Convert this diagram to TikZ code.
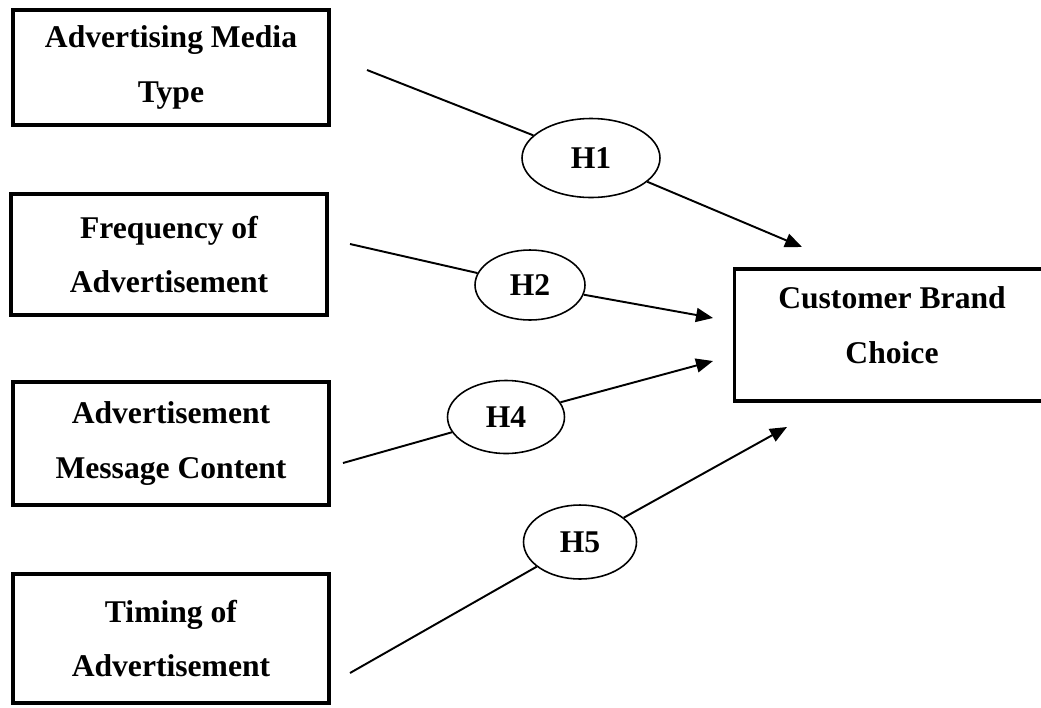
\documentclass[tikz,border=0pt]{standalone}
\usepackage{fontspec}
\setmainfont{Liberation Serif}
\usetikzlibrary{shapes.geometric, arrows.meta}
\begin{document}
\begin{tikzpicture}[x=0.02cm, y=-0.02cm,
  factor/.style={draw, line width=2.2pt, align=center, inner sep=0pt,
    font=\fontsize{18}{31}\selectfont\bfseries},
  hyp/.style={draw, ellipse, line width=0.9pt, fill=white, inner sep=0pt,
    font=\fontsize{18}{22}\selectfont\bfseries},
  link/.style={line width=1.1pt},
  arrowlink/.style={link, -{Triangle[length=0.34cm, width=0.28cm]}}]
\useasboundingbox (0,0) rectangle (1041,707);
% independent variables (left column)
\node[factor, minimum width=6.32cm, minimum height=2.3cm] (media) at (171,67.5) {Advertising Media\\Type};
\node[factor, minimum width=6.32cm, minimum height=2.42cm] (freq) at (169,254.5) {Frequency of\\Advertisement};
\node[factor, minimum width=6.32cm, minimum height=2.46cm] (content) at (171,443.5) {Advertisement\\Message Content};
\node[factor, minimum width=6.32cm, minimum height=2.58cm] (timing) at (171,638.5) {Timing of\\Advertisement};
% dependent variable (runs off the right edge)
\node[factor, minimum width=6.3cm, minimum height=2.64cm, text depth=0.4cm] (choice) at (892,335) {Customer Brand\\Choice};
% free ends of the hypothesis paths
\coordinate (s1) at (367,70);  \coordinate (t1) at (802,247);
\coordinate (s2) at (350,244); \coordinate (t2) at (713,318);
\coordinate (s4) at (343,463); \coordinate (t4) at (713,361);
\coordinate (s5) at (350,673); \coordinate (t5) at (787,427);
% hypotheses
\node[hyp, minimum width=2.76cm, minimum height=1.58cm] (h1) at (591,158) {H1};
\node[hyp, minimum width=2.2cm, minimum height=1.4cm] (h2) at (530,285) {H2};
\node[hyp, minimum width=2.34cm, minimum height=1.46cm] (h4) at (506,417) {H4};
\node[hyp, minimum width=2.26cm, minimum height=1.48cm] (h5) at (580,542) {H5};
\foreach \h in {1,2,4,5} {
  \draw[link] (s\h) -- (h\h);
  \draw[arrowlink] (h\h) -- (t\h);
}
\end{tikzpicture}
\end{document}
